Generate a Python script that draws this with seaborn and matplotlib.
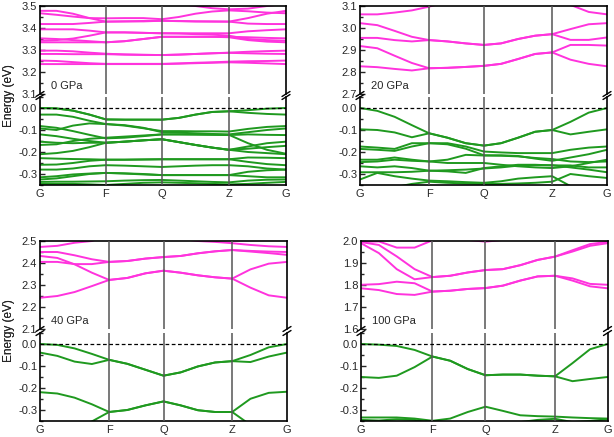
import numpy as np
import pandas as pd
import matplotlib
matplotlib.use("Agg")
import matplotlib.pyplot as plt
import seaborn as sns
from matplotlib.ticker import MultipleLocator, FormatStrFormatter

sns.set_style("white")
plt.rcParams['font.family'] = ['Liberation Sans', 'DejaVu Sans']
plt.rcParams['axes.unicode_minus'] = False

path_labels = ["G", "F", "Q", "Z", "G"]
pressures = ["0 GPa", "20 GPa", "40 GPa", "100 GPa"]

# high-symmetry positions along the path (fraction of path length)
nodes_0 = [0.0, 0.268, 0.496, 0.768, 1.0]
nodes_20 = [0.0, 0.280, 0.502, 0.778, 1.0]
nodes_40 = [0.0, 0.280, 0.500, 0.778, 1.0]
nodes_100 = [0.0, 0.290, 0.505, 0.787, 1.0]

# energy windows (eV) of the conduction part (upper) and valence part (lower)
cb_window = [(3.1, 3.5), (2.7, 3.1), (2.1, 2.5), (1.6, 2.0)]
cb_ticks = [(3.1, 3.5), (2.7, 3.1), (2.1, 2.5), (1.6, 2.0)]
vb_window = (-0.35, 0.05)

# bands: 15 k-samples each (G..F 4 steps, F..Q 3, Q..Z 4, Z..G 3)
cb_0 = [
    [3.236, 3.236, 3.236, 3.236, 3.236, 3.236, 3.236, 3.236, 3.238, 3.240, 3.242, 3.244, 3.242, 3.239, 3.236],
    [3.252, 3.250, 3.245, 3.240, 3.237, 3.237, 3.237, 3.237, 3.239, 3.242, 3.244, 3.247, 3.249, 3.250, 3.252],
    [3.282, 3.282, 3.281, 3.281, 3.281, 3.279, 3.278, 3.277, 3.279, 3.282, 3.285, 3.287, 3.285, 3.283, 3.282],
    [3.297, 3.297, 3.294, 3.288, 3.283, 3.280, 3.278, 3.277, 3.279, 3.282, 3.285, 3.288, 3.292, 3.295, 3.297],
    [3.335, 3.335, 3.335, 3.335, 3.335, 3.340, 3.350, 3.360, 3.360, 3.360, 3.360, 3.358, 3.345, 3.338, 3.335],
    [3.342, 3.345, 3.352, 3.365, 3.380, 3.380, 3.378, 3.376, 3.375, 3.372, 3.370, 3.365, 3.350, 3.345, 3.342],
    [3.353, 3.350, 3.345, 3.340, 3.335, 3.340, 3.350, 3.360, 3.360, 3.360, 3.360, 3.360, 3.358, 3.355, 3.353],
    [3.394, 3.394, 3.394, 3.388, 3.380, 3.380, 3.378, 3.376, 3.376, 3.376, 3.376, 3.376, 3.385, 3.390, 3.394],
    [3.418, 3.418, 3.418, 3.423, 3.429, 3.430, 3.430, 3.433, 3.431, 3.430, 3.429, 3.429, 3.420, 3.418, 3.418],
    [3.467, 3.460, 3.452, 3.445, 3.444, 3.445, 3.445, 3.440, 3.450, 3.465, 3.475, 3.480, 3.476, 3.470, 3.467],
    [3.478, 3.478, 3.465, 3.445, 3.429, 3.430, 3.432, 3.433, 3.432, 3.430, 3.430, 3.429, 3.445, 3.465, 3.478],
    [3.520, 3.520, 3.520, 3.520, 3.520, 3.520, 3.520, 3.520, 3.510, 3.500, 3.490, 3.485, 3.488, 3.500, 3.510],
]
vb_0 = [
    [0.000, -0.002, -0.012, -0.030, -0.052, -0.053, -0.053, -0.053, -0.045, -0.030, -0.018, -0.015, -0.010, -0.003, 0.000],
    [0.000, -0.002, -0.012, -0.030, -0.052, -0.053, -0.053, -0.053, -0.045, -0.030, -0.018, -0.015, -0.022, -0.027, -0.030],
    [-0.030, -0.030, -0.040, -0.058, -0.073, -0.080, -0.092, -0.105, -0.105, -0.106, -0.106, -0.107, -0.095, -0.086, -0.082],
    [-0.082, -0.090, -0.105, -0.122, -0.138, -0.135, -0.128, -0.120, -0.120, -0.121, -0.122, -0.123, -0.120, -0.122, -0.123],
    [-0.093, -0.100, -0.080, -0.070, -0.073, -0.078, -0.090, -0.110, -0.112, -0.115, -0.118, -0.120, -0.110, -0.100, -0.093],
    [-0.120, -0.128, -0.140, -0.150, -0.158, -0.153, -0.147, -0.142, -0.155, -0.168, -0.180, -0.190, -0.175, -0.160, -0.153],
    [-0.153, -0.158, -0.160, -0.158, -0.158, -0.153, -0.147, -0.142, -0.155, -0.168, -0.180, -0.190, -0.185, -0.178, -0.172],
    [-0.168, -0.165, -0.150, -0.140, -0.135, -0.130, -0.125, -0.120, -0.120, -0.120, -0.121, -0.122, -0.160, -0.190, -0.208],
    [-0.210, -0.205, -0.195, -0.178, -0.158, -0.153, -0.147, -0.142, -0.155, -0.168, -0.180, -0.190, -0.200, -0.205, -0.210],
    [-0.228, -0.230, -0.232, -0.233, -0.235, -0.235, -0.234, -0.233, -0.233, -0.233, -0.233, -0.233, -0.225, -0.226, -0.228],
    [-0.258, -0.257, -0.250, -0.240, -0.235, -0.235, -0.234, -0.233, -0.233, -0.233, -0.233, -0.233, -0.245, -0.255, -0.260],
    [-0.280, -0.280, -0.275, -0.265, -0.260, -0.262, -0.265, -0.268, -0.265, -0.262, -0.260, -0.260, -0.265, -0.275, -0.280],
    [-0.315, -0.310, -0.302, -0.298, -0.295, -0.297, -0.300, -0.305, -0.305, -0.305, -0.305, -0.305, -0.310, -0.315, -0.315],
    [-0.325, -0.320, -0.310, -0.300, -0.295, -0.298, -0.302, -0.305, -0.305, -0.305, -0.305, -0.305, -0.290, -0.283, -0.280],
    [-0.336, -0.335, -0.335, -0.334, -0.333, -0.330, -0.328, -0.327, -0.330, -0.333, -0.336, -0.338, -0.330, -0.326, -0.325],
    [-0.345, -0.345, -0.345, -0.347, -0.350, -0.345, -0.340, -0.338, -0.340, -0.342, -0.345, -0.347, -0.345, -0.340, -0.336],
]

cb_20 = [
    [2.826, 2.822, 2.814, 2.807, 2.817, 2.819, 2.823, 2.828, 2.837, 2.859, 2.882, 2.889, 2.856, 2.837, 2.826],
    [2.918, 2.908, 2.874, 2.841, 2.817, 2.819, 2.823, 2.828, 2.837, 2.859, 2.882, 2.889, 2.923, 2.923, 2.920],
    [2.955, 2.955, 2.945, 2.939, 2.945, 2.939, 2.930, 2.923, 2.930, 2.950, 2.965, 2.972, 2.946, 2.946, 2.957],
    [3.022, 3.013, 2.987, 2.960, 2.945, 2.939, 2.930, 2.923, 2.930, 2.950, 2.965, 2.972, 2.995, 3.017, 3.022],
    [3.062, 3.062, 3.070, 3.080, 3.097, 3.120, 3.140, 3.150, 3.150, 3.145, 3.140, 3.130, 3.105, 3.073, 3.062],
]
vb_20 = [
    [0.000, -0.013, -0.040, -0.078, -0.115, -0.135, -0.160, -0.171, -0.160, -0.135, -0.108, -0.100, -0.063, -0.021, 0.000],
    [-0.097, -0.100, -0.111, -0.133, -0.115, -0.135, -0.160, -0.171, -0.160, -0.135, -0.108, -0.100, -0.120, -0.108, -0.097],
    [-0.175, -0.180, -0.186, -0.160, -0.160, -0.160, -0.175, -0.198, -0.202, -0.205, -0.205, -0.205, -0.190, -0.180, -0.175],
    [-0.186, -0.190, -0.195, -0.175, -0.160, -0.165, -0.185, -0.215, -0.215, -0.218, -0.230, -0.240, -0.225, -0.210, -0.190],
    [-0.235, -0.235, -0.225, -0.235, -0.243, -0.235, -0.213, -0.216, -0.217, -0.220, -0.227, -0.232, -0.243, -0.246, -0.243],
    [-0.246, -0.243, -0.235, -0.240, -0.243, -0.250, -0.250, -0.250, -0.258, -0.265, -0.270, -0.273, -0.265, -0.250, -0.235],
    [-0.265, -0.270, -0.265, -0.273, -0.285, -0.288, -0.295, -0.273, -0.265, -0.258, -0.258, -0.261, -0.261, -0.270, -0.270],
    [-0.292, -0.292, -0.292, -0.290, -0.285, -0.283, -0.280, -0.275, -0.270, -0.262, -0.260, -0.260, -0.270, -0.280, -0.292],
    [-0.325, -0.295, -0.310, -0.321, -0.330, -0.333, -0.337, -0.340, -0.333, -0.321, -0.315, -0.310, -0.355, -0.380, -0.410],
    [-0.400, -0.380, -0.360, -0.345, -0.335, -0.340, -0.343, -0.345, -0.345, -0.343, -0.340, -0.335, -0.300, -0.310, -0.318],
]

cb_40 = [
    [2.242, 2.250, 2.268, 2.295, 2.323, 2.332, 2.353, 2.365, 2.356, 2.344, 2.335, 2.329, 2.288, 2.253, 2.242],
    [2.432, 2.423, 2.394, 2.356, 2.323, 2.332, 2.353, 2.365, 2.356, 2.344, 2.335, 2.329, 2.371, 2.397, 2.405],
    [2.405, 2.405, 2.395, 2.395, 2.405, 2.409, 2.420, 2.427, 2.432, 2.444, 2.453, 2.459, 2.455, 2.452, 2.450],
    [2.450, 2.450, 2.435, 2.417, 2.405, 2.409, 2.420, 2.427, 2.432, 2.444, 2.453, 2.459, 2.452, 2.445, 2.437],
    [2.473, 2.478, 2.492, 2.500, 2.530, 2.540, 2.535, 2.525, 2.510, 2.500, 2.496, 2.490, 2.482, 2.476, 2.473],
]
vb_40 = [
    [0.000, -0.004, -0.020, -0.045, -0.072, -0.090, -0.117, -0.144, -0.129, -0.102, -0.084, -0.078, -0.050, -0.015, 0.000],
    [-0.039, -0.054, -0.080, -0.091, -0.072, -0.090, -0.117, -0.144, -0.129, -0.102, -0.084, -0.078, -0.082, -0.057, -0.039],
    [-0.219, -0.225, -0.244, -0.274, -0.309, -0.300, -0.279, -0.261, -0.279, -0.301, -0.309, -0.309, -0.249, -0.222, -0.217],
    [-0.440, -0.420, -0.390, -0.352, -0.309, -0.300, -0.279, -0.261, -0.279, -0.301, -0.309, -0.309, -0.368, -0.410, -0.440],
]

cb_100 = [
    [1.785, 1.777, 1.759, 1.755, 1.770, 1.774, 1.782, 1.786, 1.797, 1.820, 1.839, 1.842, 1.820, 1.794, 1.785],
    [1.801, 1.804, 1.815, 1.808, 1.770, 1.774, 1.782, 1.786, 1.797, 1.820, 1.839, 1.842, 1.830, 1.805, 1.801],
    [1.990, 1.945, 1.872, 1.826, 1.836, 1.842, 1.857, 1.868, 1.872, 1.890, 1.914, 1.929, 1.952, 1.978, 1.990],
    [1.995, 1.982, 1.930, 1.872, 1.836, 1.842, 1.857, 1.868, 1.872, 1.890, 1.914, 1.929, 1.958, 1.986, 1.996],
    [1.996, 1.998, 1.970, 1.970, 2.003, 2.010, 2.005, 1.997, 2.005, 2.020, 2.035, 2.050, 2.040, 2.025, 2.020],
]
vb_100 = [
    [0.000, -0.003, -0.009, -0.027, -0.057, -0.076, -0.114, -0.142, -0.139, -0.139, -0.144, -0.147, -0.087, -0.024, 0.000],
    [-0.150, -0.154, -0.144, -0.105, -0.057, -0.076, -0.114, -0.142, -0.139, -0.139, -0.144, -0.147, -0.169, -0.159, -0.150],
    [-0.334, -0.334, -0.334, -0.339, -0.349, -0.339, -0.309, -0.285, -0.304, -0.324, -0.328, -0.330, -0.334, -0.337, -0.339],
    [-0.345, -0.348, -0.342, -0.345, -0.360, -0.370, -0.380, -0.380, -0.370, -0.355, -0.345, -0.340, -0.355, -0.350, -0.342],
]

nodes_all = [nodes_0, nodes_20, nodes_40, nodes_100]
cb_all = [cb_0, cb_20, cb_40, cb_100]
vb_all = [vb_0, vb_20, vb_40, vb_100]

# panel frames in pixels: left, top, right, bottom, break top, break bottom
frames = [(40, 6, 286, 185, 94, 97), (360, 6, 607, 185, 94, 97),
          (40, 241, 287, 421, 329, 333), (361, 241, 607.5, 421, 329, 333)]

W, H = 614, 437
magenta = "#ff33dd"
green = "#1f991f"
vline_color = "#555555"


def kgrid(nodes):
    steps = [4, 3, 4, 3]
    pts = [nodes[0]]
    for a, b, n in zip(nodes[:-1], nodes[1:], steps):
        pts += list(np.linspace(a, b, n + 1)[1:])
    return np.array(pts)


def to_frame(bands, k):
    rows = []
    for i, band in enumerate(bands):
        for kk, e in zip(k, band):
            rows.append((kk, e, i))
    return pd.DataFrame(rows, columns=["k", "E", "band"])


fig = plt.figure(figsize=(W / 100, H / 100), dpi=100)

for p in range(4):
    l, t, r, b, bt, bb = frames[p]
    ax_up = fig.add_axes([l / W, 1 - bt / H, (r - l) / W, (bt - t) / H])
    ax_lo = fig.add_axes([l / W, 1 - b / H, (r - l) / W, (b - bb) / H])
    k = kgrid(nodes_all[p])

    sns.lineplot(data=to_frame(cb_all[p], k), x="k", y="E", units="band",
                 estimator=None, sort=False, color=magenta, lw=1.4, ax=ax_up)
    sns.lineplot(data=to_frame(vb_all[p], k), x="k", y="E", units="band",
                 estimator=None, sort=False, color=green, lw=1.4, ax=ax_lo)
    ax_lo.axhline(0, color="black", ls=(0, (3, 2)), lw=0.9, zorder=4)

    for ax in (ax_up, ax_lo):
        ax.set_xlim(0, 1)
        for x in nodes_all[p][1:-1]:
            ax.axvline(x, color=vline_color, lw=1.1, zorder=3)
        ax.set_xlabel("")
        ax.set_ylabel("")
        for s in ax.spines.values():
            s.set_color("black")
            s.set_linewidth(1.2)
        ax.tick_params(axis="y", which="both", direction="in", left=True,
                       right=False, labelsize=8, pad=2, width=1)
        ax.tick_params(axis="y", which="major", length=3.5)
        ax.tick_params(axis="y", which="minor", length=2)
        ax.yaxis.set_major_locator(MultipleLocator(0.1))
        ax.yaxis.set_minor_locator(MultipleLocator(0.05))
        ax.yaxis.set_major_formatter(FormatStrFormatter("%.1f"))

    ax_up.set_ylim(*cb_window[p])
    ax_lo.set_ylim(*vb_window)
    ax_up.spines["bottom"].set_visible(False)
    ax_lo.spines["top"].set_visible(False)
    ax_up.set_xticks([])
    ax_lo.set_yticks([-0.3, -0.2, -0.1, 0.0])
    ax_lo.set_xticks(nodes_all[p])
    ax_lo.set_xticklabels(path_labels)
    ax_lo.tick_params(axis="x", length=0, labelsize=8, pad=3)

    ax_up.text(0.045, 0.09, pressures[p], transform=ax_up.transAxes,
               fontsize=8, ha="left", va="center")

    # axis break marks on both sides
    pw = (r - l) / W
    for xf in (l / W, r / W):
        yb = 1 - bt / H
        yl = 1 - bb / H
        dx = 4 / W
        dy = 2.5 / H
        for yc in (yb, yl):
            fig.lines.append(plt.Line2D([xf - dx, xf + dx], [yc - dy, yc + dy],
                                        transform=fig.transFigure, color="black", lw=1.0))

    fig.text(9 / W, 1 - ((t + b) / 2) / H, "Energy (eV)", rotation=90,
             fontsize=8.5, ha="center", va="center")

fig.savefig("out.png", dpi=100)
